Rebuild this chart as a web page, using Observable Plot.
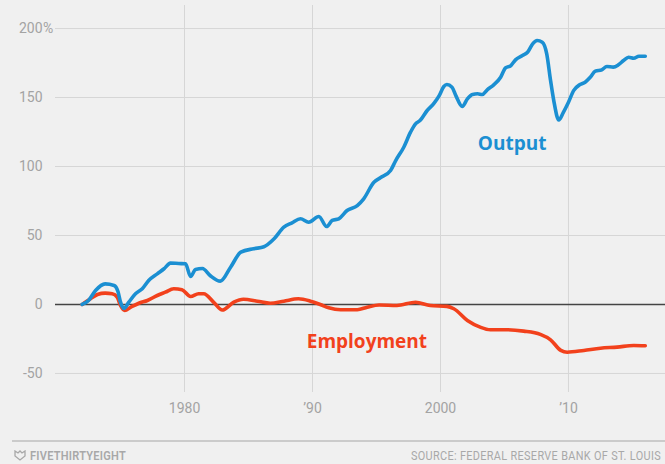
<!DOCTYPE html>
<html>
<head>
<meta charset="utf-8">
<script src="https://cdn.jsdelivr.net/npm/d3@7"></script>
<script src="https://cdn.jsdelivr.net/npm/@observablehq/plot@0.6"></script>
<style>
  html, body { margin: 0; padding: 0; background: #f0f0f0; width: 665px; height: 464px; overflow: hidden; }
  #chart svg { display: block; }
  .footer { position: relative; width: 665px; height: 24px; }
  .rule { position: absolute; left: 12px; right: 0; top: 0; border-top: 2px solid #cbcbcb; }
  .logo { position: absolute; left: 14px; top: 10px; }
  .brand { position: absolute; left: 30px; top: 8px; font: 600 13px "Roboto", sans-serif; color: #a8a8a8; letter-spacing: 0.3px; white-space: nowrap; transform-origin: 0 50%; }
  .source { position: absolute; left: 411px; top: 8px; font: 13px "Roboto", sans-serif; color: #a8a8a8; letter-spacing: 0.4px; white-space: nowrap; transform-origin: 0 50%; }
</style>
</head>
<body>
<div id="chart"></div>
<div class="footer">
  <div class="rule"></div>
  <svg class="logo" width="12" height="11" viewBox="0 0 12 11"><path d="M1 1 L4 3 L6 1 L8 3 L11 1 L11 6 L6 10 L1 6 Z" fill="none" stroke="#a8a8a8" stroke-width="1.3"/></svg>
  <div class="brand" id="brand">FIVETHIRTYEIGHT</div>
  <div class="source" id="source">SOURCE: FEDERAL RESERVE BANK OF ST. LOUIS</div>
</div>
<script>
const outputYears = [1972,1972.5,1973.05,1973.8,1974.5,1974.8,1975.0,1975.26,1975.65,1976.17,1976.7,1977.2,1977.87,1978.4,1978.9,1979.55,1980.08,1980.47,1980.86,1981.4,1982.0,1982.8,1983.6,1984.4,1985.4,1986.2,1987.0,1987.76,1988.4,1989.06,1989.7,1990.5,1991.1,1991.54,1992.05,1992.7,1993.5,1994.0,1994.8,1995.3,1996.1,1996.5,1997.13,1997.66,1998.05,1998.4,1998.96,1999.5,1999.9,2000.26,2000.5,2000.9,2001.2,2001.7,2002.1,2002.5,2002.9,2003.26,2003.65,2004.16,2004.7,2005.08,2005.5,2005.86,2006.4,2006.8,2007.2,2007.55,2007.95,2008.3,2008.6,2008.85,2009.24,2009.6,2010.0,2010.4,2010.9,2011.3,2011.7,2012.1,2012.6,2013.0,2013.5,2013.9,2014.3,2014.7,2015.1,2015.5,2016.0];
const outputValues = [0,2.9,10.1,14.9,13.8,9.4,1.7,-2.9,1.7,7.8,11.4,17.4,22.2,25.9,30,29.7,29.5,20.3,25.4,26.1,21,16.9,27,37.9,40.4,41.8,47.6,56,59.2,62.1,59.6,63.8,56.5,60.9,62.1,68.1,71.7,76.6,88.6,91.8,97.1,104.3,114,124.9,130.9,133.3,140.6,145.9,151.4,158,159.4,157.5,151.4,143.5,149,152.2,152.7,152.2,155.6,159.2,164.7,171.5,173.2,177.3,180.4,182.8,188.9,191.3,190.1,181.7,162.3,147.8,133.8,139.3,146.6,155,159.4,161.1,164.7,169.1,170.1,172.5,172,173.7,176.8,179.2,178.5,179.9,179.9];

const employmentYears = [1972,1972.66,1973.2,1973.8,1974.35,1974.74,1975.0,1975.33,1975.8,1976.43,1977.1,1977.87,1978.5,1979.16,1979.8,1980.47,1981.1,1981.5,1982.3,1982.95,1983.85,1984.6,1985.7,1986.7,1987.76,1988.9,1989.84,1990.6,1991.27,1992.2,1993.5,1994.27,1995.2,1996.6,1998.05,1999.2,2000.5,2001.04,2002.1,2003.1,2003.9,2005.2,2006.5,2007.8,2008.6,2009.4,2009.9,2011.2,2012.5,2013.8,2015.1,2016.0];
const employmentValues = [0,4.1,7.2,8.2,7.8,5.3,-0.7,-4.3,-2,0.9,2.9,6.5,8.9,11.4,10.7,5.8,7.8,7.8,1.4,-4,1.7,3.8,2.4,0.9,2.4,4.1,2.4,0,-2.4,-3.8,-3.8,-2,-0.4,-0.7,1.6,-0.7,-1.4,-3.1,-11.6,-16.4,-18.3,-18.3,-19.3,-21.7,-25.6,-33.3,-34.6,-33.3,-31.7,-30.9,-29.7,-29.9];

const yTicks = [-50, 0, 50, 100, 150, 200];
const xTicks = [1980, 1990, 2000, 2010];
const xTickLabels = ["1980", "\u201990", "2000", "\u201910"];
const seriesNames = ["Output", "Employment"];
const labelPositions = [[2005.6, 116.5], [1994.25, -26.8]];

const output = outputYears.map((x, i) => ({x, y: outputValues[i]}));
const employment = employmentYears.map((x, i) => ({x, y: employmentValues[i]}));
const labels = seriesNames.map((name, i) => ({name, x: labelPositions[i][0], y: labelPositions[i][1]}));

const BLUE = "#1b8fd2";
const RED = "#f2411c";
const tickFont = '"Roboto", sans-serif';

const chart = Plot.plot({
  width: 665,
  height: 440,
  marginTop: 5,
  marginBottom: 48,
  marginLeft: 55,
  marginRight: 0,
  style: {background: "transparent", fontFamily: tickFont},
  x: {domain: [1969.92, 2017.58]},
  y: {domain: [-63.8, 216.7]},
  marks: [
    Plot.ruleY(yTicks.filter(d => d !== 0), {stroke: "#d6d6d6", strokeWidth: 1}),
    Plot.ruleX(xTicks, {stroke: "#d6d6d6", strokeWidth: 1}),
    Plot.ruleY([0], {stroke: "#444", strokeWidth: 1.3}),
    Plot.axisY({ticks: yTicks, tickSize: 0, tickPadding: 13, tickFormat: d => String(d), fontSize: 14, fill: "#a3a3a3", letterSpacing: "1.6px", label: null}),
    Plot.text([200], {y: d => d, text: () => "%", frameAnchor: "left", dx: -12.5, textAnchor: "start", fontSize: 14, fill: "#a3a3a3"}),
    Plot.axisX({ticks: xTicks, tickSize: 0, tickPadding: 11, tickFormat: d => xTickLabels[xTicks.indexOf(d)], fontSize: 14, fill: "#a3a3a3", label: null}),
    Plot.line(employment, {x: "x", y: "y", stroke: RED, strokeWidth: 3.6, curve: "monotone-x"}),
    Plot.line(output, {x: "x", y: "y", stroke: BLUE, strokeWidth: 3.6, curve: "monotone-x"}),
    Plot.text(labels, {x: "x", y: "y", text: "name", fill: (d, i) => i === 0 ? BLUE : RED, fontSize: 19, fontWeight: "bold", fontFamily: "'Open Sans', Roboto, sans-serif"})
  ]
});
document.getElementById("chart").appendChild(chart);

function fitWidth(id, target) {
  const el = document.getElementById(id);
  const w = el.getBoundingClientRect().width;
  if (w > 0) el.style.transform = `scaleX(${target / w})`;
}
fitWidth("brand", 96);
fitWidth("source", 250);
</script>
</body>
</html>
